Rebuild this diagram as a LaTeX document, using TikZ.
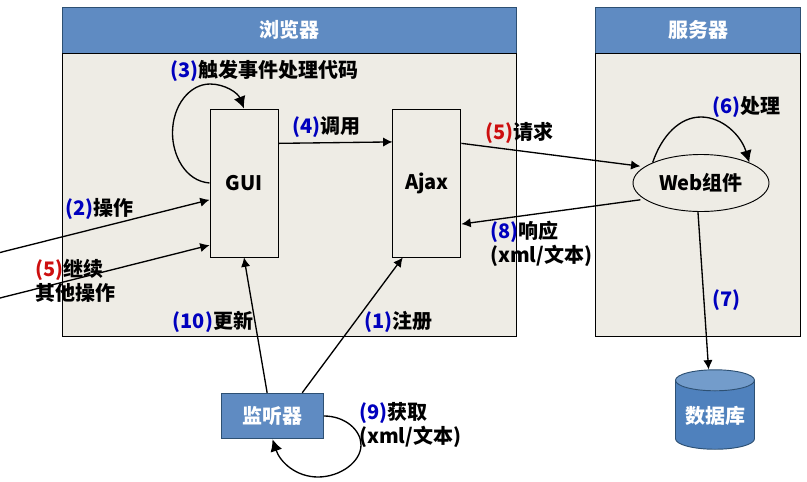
\documentclass[tikz,border=0pt]{standalone}
\usepackage{fontspec}
\setmainfont{Noto Sans CJK SC}
\usetikzlibrary{positioning,arrows.meta,shapes.geometric}
\definecolor{headblue}{RGB}{95,139,194}
\definecolor{edgeblue}{RGB}{45,80,115}
\definecolor{panelgray}{RGB}{238,236,229}
\definecolor{dbbody}{RGB}{79,129,189}
\definecolor{dbtop}{RGB}{115,156,203}
\definecolor{numblue}{RGB}{0,0,190}
\definecolor{numred}{RGB}{205,15,15}
\newcommand{\bluenum}[1]{\textcolor{numblue}{(#1)}}
\newcommand{\rednum}[1]{\textcolor{numred}{(#1)}}
\tikzset{head node/.style={rectangle,draw=edgeblue,fill=headblue,text=white,font=\fontsize{15}{18}\selectfont\bfseries,line width=0.7pt,inner sep=0pt},
	body node/.style={rectangle,draw=black,fill=panelgray,line width=0.7pt,inner sep=0pt},
	main node/.style={body node,minimum width=51pt,minimum height=111pt,font=\fontsize{15}{18}\selectfont\bfseries},
	label node/.style={inner sep=0pt,font=\fontsize{15}{18}\selectfont\bfseries,align=left},
	link/.style={draw,line width=1pt,-{Latex[length=7pt,width=7pt]}},
	loop link/.style={draw,line width=1pt,-{Latex[length=9pt,width=9pt]}},
}

\begin{document}
\begin{tikzpicture}[x=0.75pt,y=-0.75pt]
	\useasboundingbox (0,0) rectangle (807,482);
	\node[head node,minimum width=340.5pt,minimum height=34.1pt] (browser) at (289.5,30.25){浏览器};
	\node[body node,minimum width=340.5pt,minimum height=212.25pt] (browserbody)[below = 0pt of browser]{};
	\node[head node,minimum width=153.75pt,minimum height=34.1pt] (server) at (698,30.25){服务器};
	\node[body node,minimum width=153.75pt,minimum height=212.25pt] (serverbody)[below = 0pt of server]{};
	
	\node[main node] (gui) at (244,183){GUI};
	\node[main node] (ajax)[right = 85.5pt of gui]{Ajax};
	\node[ellipse,draw=black,fill=panelgray,line width=0.7pt,inner sep=0pt,minimum width=102pt,minimum height=42.75pt,font=\fontsize{15}{18}\selectfont\bfseries] (web) at (701,183){Web组件};
	\node[head node,minimum width=76.5pt,minimum height=34.1pt] (listener) at (272.5,416){监听器};
	\node[cylinder,shape border rotate=90,aspect=0.35,draw=edgeblue,line width=0.7pt,cylinder uses custom fill,cylinder body fill=dbbody,cylinder end fill=dbtop,inner sep=0pt,minimum width=59.25pt,minimum height=59.6pt,font=\fontsize{15}{18}\selectfont\bfseries] (db) at (715,415){\phantom{数据库}};
	\node[label node,text=white] (dbname) at (715,416){数据库};
	
	\coordinate (user1) at (0,252.5);
	\coordinate (user2) at (0,298);
	
	\path[link] (user1) -- (gui.206.6);
	\path[link] (user2) -- (gui.241.3);
	\path[link] (gui.49.3) -- (ajax.130.7);
	\path[link,shorten >=3pt] (ajax.49.3) -- (web.164);
	\path[link,shorten <=3pt] (web.196) -- (ajax.310.4);
	\path[link] (web.264) -- (db.98.5);
	\path[link] (listener.103.4) -- (gui.south);
	\path[link] (listener.38.9) -- (ajax.252.4);
	\path[loop link] (gui.west) .. controls (185,181) and (172.5,155) .. (172.5,133) .. controls (172.5,105) and (190,84) .. (210,84) .. controls (225,84) and (238,93) .. (gui.north);
	\path[loop link] (web.157) .. controls (662,135) and (680,117) .. (701,117) .. controls (722,117) and (741,135) .. (web.23.6);
	\path[loop link] (listener.east) .. controls (345,416) and (361,430) .. (361,445) .. controls (361,462) and (340,477) .. (318,477) .. controls (296,477) and (280,462) .. (listener.south);
	
	\node[label node,anchor=west] (trigger) at (170,71){\bluenum{3}触发事件处理代码};
	\node[label node,anchor=west] (call) at (292.5,127){\bluenum{4}调用};
	\node[label node,anchor=west] (operate) at (65.5,209){\bluenum{2}操作};
	\node[label node,anchor=west] (other) at (35.5,281){\rednum{5}继续\\其他操作};
	\node[label node,anchor=west] (update) at (172.5,322){\bluenum{10}更新};
	\node[label node,anchor=west] (register) at (364.5,322){\bluenum{1}注册};
	\node[label node,anchor=west] (request) at (485.5,133){\rednum{5}请求};
	\node[label node,anchor=west] (process) at (712.5,107){\bluenum{6}处理};
	\node[label node,anchor=west] (respond) at (490,244){\bluenum{8}响应\\(xml/文本)};
	\node[label node,anchor=west] (query) at (712.5,300){\bluenum{7}};
	\node[label node,anchor=west] (fetch) at (359,425){\bluenum{9}获取\\(xml/文本)};
\end{tikzpicture}
\end{document}
